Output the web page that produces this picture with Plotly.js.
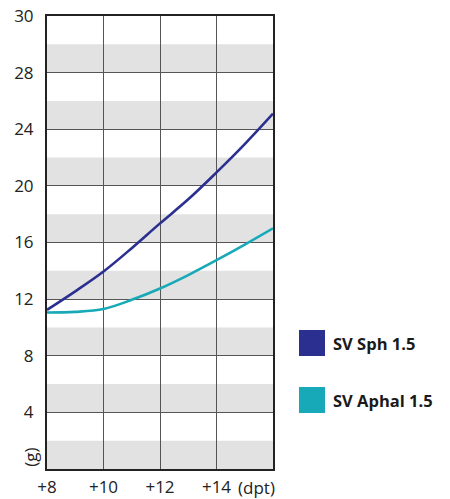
<!DOCTYPE html>
<html>
<head>
<meta charset="utf-8">
<script src="https://cdn.plot.ly/plotly-3.0.1.min.js"></script>
<style>html,body{margin:0;padding:0;background:#fff;}#chart{width:450px;height:499px;}</style>
</head>
<body>
<div id="chart"></div>
<script>
// Data
var dioptres = [8, 9, 10, 11, 12, 13, 14, 15, 16];
var svSph15 = [11.24, 12.55, 13.95, 15.6, 17.35, 19.05, 20.95, 22.95, 25.1];
var svAphal15 = [11.05, 11.1, 11.3, 11.95, 12.75, 13.7, 14.75, 15.85, 17.0];
var seriesNames = ['SV Sph 1.5', 'SV Aphal 1.5'];
var seriesColors = ['#2b2f8f', '#17a9b7'];
var xTickVals = [8, 10, 12, 14];
var xTickText = ['+8', '+10', '+12', '+14'];
var yTickVals = [4, 8, 12, 16, 20, 24, 28, 32];
var yTickText = ['4', '8', '12', '16', '20', '24', '28', '30'];
var bandStarts = [0, 4, 8, 12, 16, 20, 24, 28];

var font = 'Open Sans, Liberation Sans, sans-serif';

var traces = [
  {x: dioptres, y: svSph15, name: seriesNames[0], type: 'scatter', mode: 'lines',
   line: {color: seriesColors[0], width: 2.6, shape: 'spline'}, showlegend: false},
  {x: dioptres, y: svAphal15, name: seriesNames[1], type: 'scatter', mode: 'lines',
   line: {color: seriesColors[1], width: 2.6, shape: 'spline'}, showlegend: false}
];

var shapes = bandStarts.map(function (b) {
  return {type: 'rect', xref: 'paper', yref: 'y', x0: 0, x1: 1, y0: b, y1: b + 2,
          fillcolor: '#e2e2e2', line: {width: 0}, layer: 'below'};
});

var annotations = [
  {text: '(dpt)', x: 15.42, xref: 'x', y: 0, yref: 'paper', yanchor: 'top',
   showarrow: false, yshift: -5, font: {family: font, size: 17, color: '#222'}},
  {text: '(g)', x: 0, xref: 'paper', xanchor: 'center', xshift: -16, y: 0.8, yref: 'y', yanchor: 'middle',
   textangle: -90, showarrow: false, font: {family: font, size: 17, color: '#222'}}
];

// Legend drawn as squares + labels
var legendTop = [330, 387];
seriesNames.forEach(function (n, i) {
  shapes.push({type: 'rect', xref: 'paper', yref: 'paper',
    x0: (299 - 47) / 226, x1: (325 - 47) / 226,
    y0: (469 - legendTop[i] - 26) / 453, y1: (469 - legendTop[i]) / 453,
    fillcolor: seriesColors[i], line: {width: 0}});
  annotations.push({text: '<b>' + n + '</b>', xref: 'paper', yref: 'paper',
    x: (331 - 47) / 226, xanchor: 'left', y: (469 - legendTop[i] - 13) / 453, yanchor: 'middle',
    showarrow: false, font: {family: font, size: 16.5, color: '#1a1a1a'}});
});

var layout = {
  width: 450, height: 499,
  margin: {l: 47, r: 177, t: 16, b: 30},
  paper_bgcolor: '#ffffff', plot_bgcolor: '#ffffff',
  font: {family: font, size: 17, color: '#222'},
  xaxis: {range: [8, 16], tickvals: xTickVals, ticktext: xTickText,
    showgrid: true, gridcolor: '#555', gridwidth: 1, zeroline: false,
    showline: true, mirror: true, linecolor: '#222', linewidth: 2,
    ticks: '', ticklabelstandoff: 2, fixedrange: true},
  yaxis: {range: [0, 32], tickvals: yTickVals, ticktext: yTickText,
    showgrid: true, gridcolor: '#555', gridwidth: 1, zeroline: false,
    showline: true, mirror: true, linecolor: '#222', linewidth: 2,
    ticks: '', ticklabelstandoff: 8, fixedrange: true},
  shapes: shapes,
  annotations: annotations,
  showlegend: false
};

Plotly.newPlot('chart', traces, layout, {displayModeBar: false, staticPlot: true});
</script>
</body>
</html>
